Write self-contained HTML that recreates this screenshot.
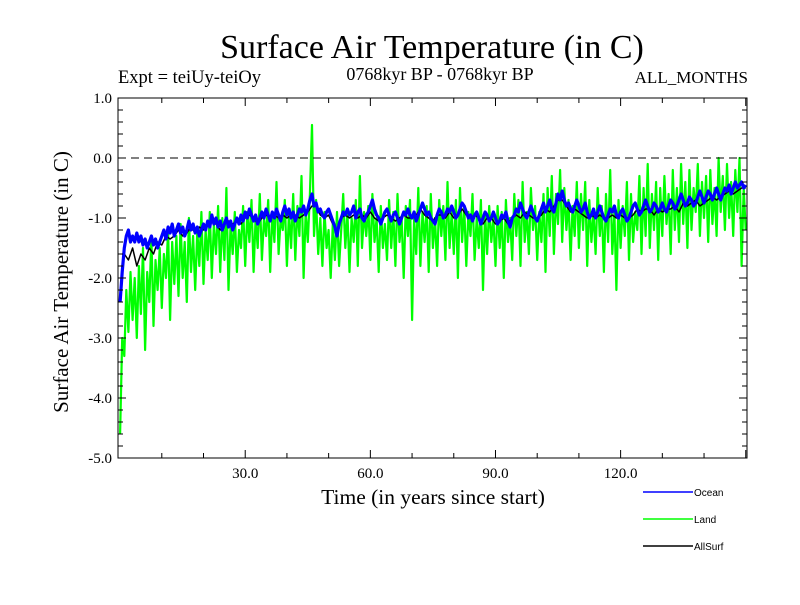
<!DOCTYPE html>
<html><head><meta charset="utf-8"><style>
body{margin:0;background:#fff}
svg text{font-family:"Liberation Serif",serif}
</style></head><body>
<svg width="800" height="600" id="c" xmlns="http://www.w3.org/2000/svg">
<text x="432" y="58" font-size="34" text-anchor="middle">Surface Air Temperature (in C)</text>
<text x="440" y="80" font-size="18" text-anchor="middle">0768kyr BP - 0768kyr BP</text>
<text x="118" y="83" font-size="18.5">Expt = teiUy-teiOy</text>
<text x="748" y="83" font-size="17" text-anchor="end">ALL_MONTHS</text>
<text transform="translate(68,282) rotate(-90)" font-size="21" text-anchor="middle">Surface Air Temperature (in C)</text>
<text x="433" y="504" font-size="21.5" text-anchor="middle">Time (in years since start)</text>
<g id="marks"></g>
<g id="axes"></g>
<g>
<line x1="643" y1="492" x2="693" y2="492" stroke="#0000ff" stroke-width="1.5"/>
<text x="694" y="496" font-size="10" style="font-family:'Liberation Sans',sans-serif">Ocean</text>
<line x1="643" y1="519" x2="693" y2="519" stroke="#00ff00" stroke-width="1.5"/>
<text x="694" y="523" font-size="10" style="font-family:'Liberation Sans',sans-serif">Land</text>
<line x1="643" y1="546" x2="693" y2="546" stroke="#000" stroke-width="1.5"/>
<text x="694" y="550" font-size="10" style="font-family:'Liberation Sans',sans-serif">AllSurf</text>
</g>
</svg>
<script>
const oceanStep = 0.5;
const ocean = [-2.4,-1.9,-1.5,-1.3,-1.2,-1.4,-1.3,-1.4,-1.25,-1.4,
-1.3,-1.45,-1.35,-1.5,-1.4,-1.3,-1.45,-1.35,-1.5,-1.4,
-1.3,-1.2,-1.35,-1.15,-1.25,-1.1,-1.3,-1.2,-1.1,-1.25,
-1.15,-1.3,-1.2,-1.05,-1.2,-1.1,-1.25,-1.15,-1.3,-1.2,
-1.1,-1.2,-1.05,-1.15,-0.95,-1.1,-1.0,-1.15,-1.05,-1.2,
-1.1,-1.0,-1.15,-1.05,-1.2,-1.1,-1.0,-1.1,-0.95,-1.05,
-0.9,-1.0,-0.85,-0.95,-1.05,-0.95,-1.1,-1.0,-0.9,-1.0,
-0.85,-0.95,-1.05,-0.9,-1.0,-0.85,-0.95,-1.05,-0.9,-0.8,
-0.95,-0.85,-1.0,-0.9,-1.05,-0.95,-0.85,-0.9,-0.8,-0.95,
-0.85,-0.7,-0.6,-0.8,-0.75,-0.9,-0.85,-0.95,-1.0,-0.9,
-0.85,-0.95,-1.05,-1.15,-1.3,-1.1,-1.0,-0.9,-0.95,-0.85,
-0.95,-0.9,-0.8,-1.0,-0.9,-0.85,-1.0,-1.05,-0.95,-0.9,
-0.8,-0.7,-0.85,-0.95,-1.0,-1.1,-1.0,-0.9,-0.85,-0.95,
-1.05,-0.95,-0.9,-1.0,-1.1,-1.0,-0.9,-0.95,-0.85,-0.95,
-1.0,-0.9,-1.05,-0.95,-0.85,-0.75,-0.85,-0.95,-0.9,-1.0,
-1.05,-1.1,-0.95,-0.85,-0.9,-1.0,-0.95,-0.85,-0.9,-0.8,
-0.9,-1.0,-0.95,-0.85,-0.75,-0.8,-0.9,-1.0,-0.95,-1.05,
-0.95,-0.9,-1.0,-1.1,-1.0,-0.9,-0.95,-1.05,-1.0,-0.9,
-1.0,-1.1,-1.05,-0.95,-1.0,-0.9,-1.05,-1.15,-1.0,-0.95,
-0.85,-0.9,-0.75,-0.85,-0.95,-1.0,-0.9,-0.8,-0.9,-1.0,
-1.05,-0.95,-0.85,-0.75,-0.9,-0.8,-0.7,-0.85,-0.9,-0.75,
-0.6,-0.7,-0.55,-0.7,-0.8,-0.75,-0.85,-0.9,-0.8,-0.7,
-0.8,-0.9,-0.85,-0.75,-0.9,-1.0,-0.95,-0.85,-1.0,-0.9,
-0.8,-0.9,-1.0,-1.05,-0.95,-0.85,-0.9,-0.8,-0.95,-1.0,
-0.9,-0.85,-0.95,-1.05,-1.0,-0.9,-0.8,-0.75,-0.85,-0.95,
-0.9,-0.8,-0.7,-0.8,-0.9,-0.85,-0.75,-0.8,-0.9,-0.85,
-0.75,-0.85,-0.9,-0.8,-0.7,-0.75,-0.85,-0.8,-0.7,-0.6,
-0.7,-0.8,-0.75,-0.65,-0.7,-0.8,-0.75,-0.65,-0.55,-0.65,
-0.75,-0.65,-0.55,-0.6,-0.7,-0.6,-0.5,-0.6,-0.7,-0.6,
-0.5,-0.55,-0.45,-0.6,-0.5,-0.4,-0.5,-0.45,-0.4,-0.5,-0.45];
const landStep = 0.5;
const land = [-4.6,-3.0,-3.3,-2.2,-2.9,-1.9,-2.7,-2.0,-3.0,-1.8,
-2.6,-1.5,-3.2,-1.9,-2.4,-1.3,-2.8,-1.7,-2.2,-1.5,
-2.5,-1.6,-2.0,-1.2,-2.7,-1.4,-2.1,-1.3,-2.3,-1.1,
-2.0,-1.4,-2.4,-1.0,-1.9,-1.3,-2.2,-1.2,-1.8,-0.9,
-2.1,-1.2,-1.7,-0.9,-2.0,-1.1,-1.6,-0.8,-1.9,-1.0,
-1.7,-0.5,-2.2,-1.1,-1.6,-0.9,-1.9,-1.2,-1.5,-0.8,
-1.8,-0.9,-1.4,-0.7,-1.9,-1.0,-1.5,-0.6,-1.7,-1.0,
-1.3,-0.7,-1.9,-0.9,-1.4,-0.4,-1.6,-1.0,-1.2,-0.7,
-1.8,-0.9,-1.5,-0.6,-1.7,-0.8,-1.3,-0.3,-2.0,-0.9,
-1.4,-0.6,0.55,-1.3,-0.7,-1.6,-1.0,-1.8,-0.9,-1.5,
-1.2,-2.0,-1.1,-1.7,-0.9,-1.8,-1.2,-0.6,-1.5,-0.9,
-1.9,-1.0,-1.4,-0.7,-1.8,-0.3,-1.5,-0.9,-1.3,-0.8,
-1.7,-0.6,-1.4,-1.0,-1.9,-0.8,-1.5,-1.1,-1.7,-0.7,
-1.5,-0.9,-1.8,-0.6,-1.4,-1.0,-2.0,-0.8,-1.3,-0.7,
-2.7,-1.0,-1.6,-0.5,-1.8,-0.9,-1.4,-0.8,-1.9,-0.6,
-1.5,-1.0,-1.8,-0.7,-1.3,-0.8,-1.7,-0.4,-1.5,-0.9,
-1.6,-0.7,-2.0,-0.5,-1.4,-0.8,-1.8,-0.9,-1.3,-0.6,
-1.7,-1.0,-1.5,-0.7,-2.2,-0.9,-1.6,-0.8,-1.4,-1.0,
-1.8,-0.8,-1.5,-0.9,-2.0,-0.7,-1.4,-1.0,-1.7,-0.6,
-1.3,-0.7,-1.8,-0.4,-1.4,-0.9,-1.6,-0.5,-1.2,-0.8,
-1.7,-0.9,-1.4,-0.6,-1.9,-0.5,-1.3,-0.3,-1.6,-0.6,
-1.1,-0.2,-1.4,-0.5,-1.2,-0.7,-1.7,-0.8,-1.3,-0.4,
-1.5,-0.6,-1.2,-0.4,-1.8,-0.7,-1.4,-0.9,-1.6,-0.5,
-1.3,-0.8,-1.9,-0.6,-1.4,-0.2,-1.6,-0.9,-2.2,-0.7,
-1.5,-0.8,-1.3,-0.4,-1.7,-0.6,-1.4,-0.9,-1.2,-0.3,
-1.6,-0.5,-1.3,-0.1,-1.5,-0.6,-1.2,-0.4,-1.7,-0.5,
-1.3,-0.3,-1.1,-0.6,-1.6,-0.2,-1.2,-0.5,-1.4,-0.1,
-1.1,-0.4,-1.5,-0.2,-1.2,-0.5,-0.9,-0.1,-1.3,-0.4,
-1.0,-0.3,-1.4,-0.2,-1.1,-0.5,-1.3,0.0,-0.9,-0.3,
-1.2,-0.1,-1.0,-0.4,-1.3,-0.2,-0.9,0.0,-1.8,-0.5,-1.2];
const allSurfStep = 1;
const allSurf = [-2.3,-1.6,-1.7,-1.5,-1.8,-1.6,-1.7,-1.5,-1.6,-1.4,
-1.45,-1.3,-1.35,-1.3,-1.2,-1.3,-1.25,-1.15,-1.25,-1.15,
-1.2,-1.1,-1.05,-1.1,-1.2,-1.1,-1.05,-1.1,-1.05,-1.1,
-1.0,-0.95,-1.0,-1.1,-1.0,-0.95,-1.0,-0.95,-1.0,-0.95,
-1.0,-0.95,-0.95,-1.0,-0.95,-0.9,-0.8,-0.8,-0.95,-1.0,
-0.95,-1.1,-1.2,-1.0,-0.95,-1.0,-0.95,-1.0,-0.95,-1.0,
-0.9,-1.0,-1.05,-1.0,-0.95,-1.0,-1.05,-1.0,-0.95,-1.0,
-1.0,-0.95,-0.85,-0.95,-1.0,-1.05,-0.95,-0.95,-1.0,-0.9,
-1.0,-0.95,-0.85,-0.95,-1.0,-0.95,-1.0,-1.1,-1.0,-1.0,
-1.1,-1.05,-1.0,-1.1,-1.0,-0.95,-1.0,-0.9,-0.95,-1.0,
-1.0,-0.95,-0.85,-0.9,-0.8,-0.7,-0.7,-0.8,-0.9,-0.85,
-0.9,-0.95,-1.0,-0.95,-1.0,-0.95,-1.0,-1.0,-0.95,-1.0,
-0.95,-1.0,-1.0,-0.95,-0.85,-0.9,-0.85,-0.85,-0.95,-0.85,
-0.9,-0.85,-0.85,-0.8,-0.9,-0.75,-0.8,-0.75,-0.7,-0.8,
-0.75,-0.7,-0.65,-0.7,-0.65,-0.6,-0.55,-0.6,-0.55,-0.5,-0.5];
const xTickValues = [30, 60, 90, 120];
const xTickLabels = ["30.0", "60.0", "90.0", "120.0"];
const yTickValues = [1, 0, -1, -2, -3, -4, -5];
const yTickLabels = ["1.0", "0.0", "-1.0", "-2.0", "-3.0", "-4.0", "-5.0"];

const L=118,R=747,T=98,B=458,X0=-0.5,X1=150.3,Y0=-5,Y1=1;
const xs=v=>L+(v-X0)/(X1-X0)*(R-L);
const ys=v=>B-(v-Y0)/(Y1-Y0)*(B-T);
const NS='http://www.w3.org/2000/svg';
function mk(tag,parent){const e=document.createElementNS(NS,tag);parent.appendChild(e);return e;}
const marks=document.getElementById('marks'), axes=document.getElementById('axes');
function series(arr,step,color,w,name){
  const p=mk('path',marks);
  
  
  p.setAttribute('d',arr.map((v,i)=>(i?'L':'M')+xs(i*step).toFixed(1)+','+ys(v).toFixed(1)).join(''));
  p.setAttribute('fill','none');p.setAttribute('stroke',color);p.setAttribute('stroke-width',w);p.setAttribute('stroke-linejoin','round');
}
series(land,landStep,'#00ff00',2.2,'land-line');
series(allSurf,allSurfStep,'#000000',1.5,'allsurf-line');
series(ocean,oceanStep,'#0000ff',3.2,'ocean-line');
const z=mk('line',axes);


z.setAttribute('x1',L);z.setAttribute('x2',R);z.setAttribute('y1',ys(0));z.setAttribute('y2',ys(0));
z.setAttribute('stroke','#000');z.setAttribute('stroke-dasharray','8,5');
const fr=mk('rect',axes);


fr.setAttribute('x',L);fr.setAttribute('y',T);fr.setAttribute('width',R-L);fr.setAttribute('height',B-T);
fr.setAttribute('fill','none');fr.setAttribute('stroke','#000');
function tick(x1,y1,x2,y2){const l=mk('line',axes);
  
  
  l.setAttribute('x1',x1);l.setAttribute('y1',y1);l.setAttribute('x2',x2);l.setAttribute('y2',y2);l.setAttribute('stroke','#000');}
for(let v=10;v<=150;v+=10){const x=xs(v),len=v%30?5:8;tick(x,B,x,B-len);tick(x,T,x,T+len);}
for(let k=-25;k<=5;k++){const v=k/5,y=ys(v),len=k%5?5:8;tick(L,y,L+len,y);tick(R,y,R-len,y);}
xTickValues.forEach((v,i)=>{const t=mk('text',axes);
  
  
  t.setAttribute('x',xs(v));t.setAttribute('y',478);t.setAttribute('font-size','15');t.setAttribute('text-anchor','middle');t.textContent=xTickLabels[i];});
yTickValues.forEach((v,i)=>{const t=mk('text',axes);
  
  
  t.setAttribute('x',112);t.setAttribute('y',ys(v)+5);t.setAttribute('font-size','15');t.setAttribute('text-anchor','end');t.textContent=yTickLabels[i];});
</script>
</body></html>
